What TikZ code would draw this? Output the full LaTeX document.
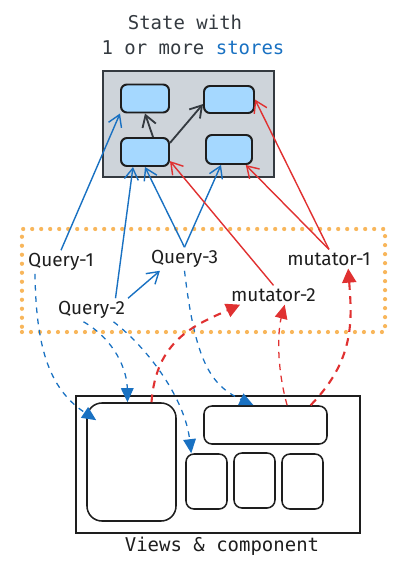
\documentclass[tikz,border=0pt]{standalone}
\usepackage{fontspec}
\setmainfont{Fira Sans}
\setmonofont{DejaVu Sans Mono}
\usetikzlibrary{arrows.meta}
\definecolor{sblue}{HTML}{1971C2}
\definecolor{sred}{HTML}{E03131}
\definecolor{sdark}{HTML}{1E1E1E}
\definecolor{sgray}{HTML}{CED4DA}
\definecolor{slight}{HTML}{A5D8FF}
\definecolor{sorange}{HTML}{F8B65B}
\definecolor{stext}{HTML}{343A40}
\begin{document}
\begin{tikzpicture}
		[x=0.025cm, y=-0.025cm,
		statebox/.style={
			rectangle,
			draw=stext,
			line width=1.5pt,
			fill=sgray,
			minimum width=4.275cm,
			minimum height=2.65cm
		},
		store/.style={
			rectangle,
			rounded corners=0.15cm,
			draw=sdark,
			line width=1.4pt,
			fill=slight,
			minimum width=1.2cm,
			minimum height=0.7cm
		},
		viewbox/.style={rectangle,rounded corners=0.2cm,draw=sdark,line width=1.1pt},
		lbl/.style={font=\fontsize{13.5}{16}\selectfont,text=sdark,inner sep=2pt},
		ttl/.style={font=\ttfamily\fontsize{13.5}{16}\selectfont,inner sep=0pt},
		sline/.style={draw=stext,line width=1.3pt,-{Straight Barb[length=8pt,width=10pt]}},
		qline/.style={draw=sblue,line width=1pt,-{Straight Barb[length=8pt,width=10pt]}},
		mline/.style={draw=sred,line width=1pt,-{Straight Barb[length=8pt,width=10pt]}},
		qdash/.style={draw=sblue,line width=0.9pt,dash pattern=on 4pt off 4pt,-{Triangle[length=10pt,width=9pt]}},
		mdash/.style={draw=sred,line width=1.5pt,dash pattern=on 5.5pt off 4.5pt,-{Triangle[length=10pt,width=10pt]}},
		mdashthin/.style={draw=sred,line width=0.9pt,dash pattern=on 4.5pt off 4pt,-{Triangle[length=10pt,width=9pt]}}]
		\useasboundingbox (0,0) rectangle (402,567);
		\node[ttl,text=stext] (t1) at (185,22) {State with};
		\node[ttl,text=stext] (t2) at (193,48) {1 or more \textcolor{sblue}{stores}};
		\node[statebox] (state) at (188.5,124) {};
		\node[store] (tl) at (145,98.5) {};
		\node[store,minimum width=1.25cm,minimum height=0.675cm] (tr) at (229,99.5) {};
		\node[store] (bl) at (145,152) {};
		\node[store,minimum width=1.15cm,minimum height=0.725cm] (br) at (229,149.5) {};
		\node[rectangle,draw=sorange,line width=3pt,line cap=round,dash pattern=on 0pt off 6.4pt,minimum width=9.075cm,minimum height=2.575cm] (grp) at (203.5,280.5) {};
		\node[lbl] (q1) at (61,262) {Query-1};
		\node[lbl] (q2) at (91.5,310) {Query-2};
		\node[lbl] (q3) at (184.5,259) {Query-3};
		\node[lbl] (m1) at (329,259) {mutator-1};
		\node[lbl] (m2) at (273.5,295) {mutator-2};
		\node[rectangle,draw=sdark,line width=1.4pt,minimum width=7.1cm,minimum height=3.425cm] (views) at (218,464.5) {};
		\node[viewbox,rounded corners=0.375cm,minimum width=2.225cm,minimum height=2.95cm] (bigleft) at (131.5,462) {};
		\node[viewbox,minimum width=3.075cm,minimum height=0.95cm] (topwide) at (265.5,425) {};
		\node[viewbox,minimum width=1.025cm,minimum height=1.375cm] (small1) at (206.5,481.5) {};
		\node[viewbox,minimum width=1.025cm,minimum height=1.375cm] (small2) at (254.5,480.5) {};
		\node[viewbox,minimum width=1.025cm,minimum height=1.375cm] (small3) at (302.5,481.5) {};
		\node[ttl,text=sdark] (vtxt) at (222,546) {Views \& component};
		\draw[sline] ([xshift=0.2cm]bl.north) -- (tl.south);
		\draw[sline] (bl.20) -- (tr.-170);
		\draw[qline] (q1.north) -- (tl.south west);
		\draw[qline] ([xshift=0.6cm]q2.north) -- ([xshift=-0.3cm]bl.south);
		\draw[qline] (q3.north) -- (bl.south);
		\draw[qline] (q3.north) -- ([xshift=-0.2cm]br.south);
		\draw[qline] (q2.north east) -- ([xshift=0.3cm]q3.south west);
		\draw[mline] (m2.north) -- (bl.-20);
		\draw[mline] (m1.north) -- ([xshift=-0.18cm]br.south east);
		\draw[mline] (m1.north) -- (tr.east);
		\draw[qdash] ([xshift=-0.65cm]q1.south) .. controls (36,345) and (48,388) .. ([xshift=0.25cm,yshift=-0.45cm]bigleft.north west);
		\draw[qdash] ([xshift=-0.2cm]q2.south) .. controls (115,340) and (127,370) .. ([xshift=-0.1cm]bigleft.north);
		\draw[qdash] ([xshift=0.55cm]q2.south) .. controls (150,350) and (185,400) .. ([xshift=0.15cm]small1.north west);
		\draw[qdash] (q3.south) .. controls (195,360) and (210,385) .. ([xshift=-0.3cm]topwide.north);
		\draw[mdash] ([xshift=0.5cm]bigleft.north) .. controls (156,340) and (195,325) .. ([xshift=0.3cm]m2.south west);
		\draw[mdashthin] ([xshift=0.54cm]topwide.north) .. controls (276,365) and (278,330) .. ([xshift=0.28cm]m2.south);
		\draw[mdash] ([xshift=-0.43cm]topwide.north east) .. controls (355,360) and (352,320) .. ([xshift=0.48cm]m1.south);
\end{tikzpicture}
\end{document}
